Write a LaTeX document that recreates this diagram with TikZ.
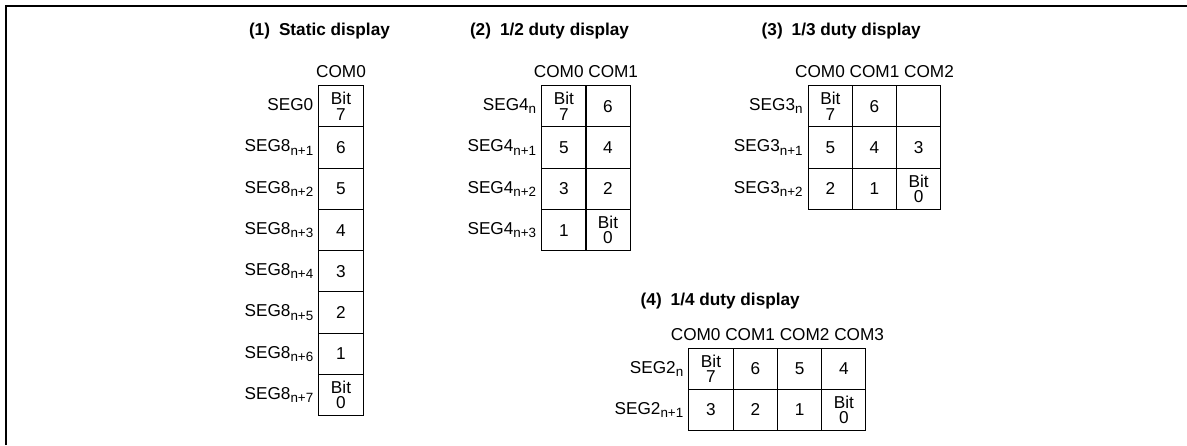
\documentclass[tikz,border=0pt]{standalone}
\usepackage{fontspec}
\setmainfont{Liberation Sans}
\usetikzlibrary{calc}
\newcommand\lsub[1]{\raisebox{-1.7pt}{\fontsize{6.7pt}{7pt}\selectfont #1}}
\begin{document}
\begin{tikzpicture}[x=0.5pt,y=-0.5pt,
  every node/.style={font=\fontsize{8.6pt}{7.6pt}\selectfont, inner sep=0pt, outer sep=0pt},
  cell/.style={draw, line width=0.5pt, minimum width=22.15pt, minimum height=20.625pt, align=center},
  seg/.style={anchor=base east, xshift=-2.8pt, yshift=-2.1pt},
  com/.style={anchor=base, yshift=4pt},
  ttl/.style={anchor=west, font=\fontsize{8.6pt}{10pt}\selectfont\bfseries}]
\useasboundingbox (0,0) rectangle (1187,445);
\draw[line width=1pt] (6,445) -- (6,6) -- (1187,6);

% ---------- (1) Static display
\node[ttl] (t1) at (249,31) {(1)\hspace{4.5pt}Static display};
\node[cell] (a1) at (341,106.3) {Bit\\7};
\node[cell] (a2) at (341,147.6) {6};
\node[cell] (a3) at (341,188.8) {5};
\node[cell] (a4) at (341,230.1) {4};
\node[cell] (a5) at (341,271.3) {3};
\node[cell] (a6) at (341,312.6) {2};
\node[cell] (a7) at (341,353.8) {1};
\node[cell] (a8) at (341,395.1) {Bit\\0};
\node[com] (ac) at (a1.north) {COM0};
\node[seg] (as1) at (a1.west) {SEG0};
\node[seg] (as2) at (a2.west) {SEG8\lsub{n+1}};
\node[seg] (as3) at (a3.west) {SEG8\lsub{n+2}};
\node[seg] (as4) at (a4.west) {SEG8\lsub{n+3}};
\node[seg] (as5) at (a5.west) {SEG8\lsub{n+4}};
\node[seg] (as6) at (a6.west) {SEG8\lsub{n+5}};
\node[seg] (as7) at (a7.west) {SEG8\lsub{n+6}};
\node[seg] (as8) at (a8.west) {SEG8\lsub{n+7}};

% ---------- (2) 1/2 duty display
\node[ttl] (t2) at (470,31) {(2)\hspace{4.5pt}1/2 duty display};
\node[cell] (b11) at (563.9,106.3) {Bit\\7};
\node[cell] (b12) at (608,106.3) {6};
\node[cell] (b21) at (563.9,147.6) {5};
\node[cell] (b22) at (608,147.6) {4};
\node[cell] (b31) at (563.9,188.8) {3};
\node[cell] (b32) at (608,188.8) {2};
\node[cell] (b41) at (563.9,230.1) {1};
\node[cell] (b42) at (608,230.1) {Bit\\0};
\node[com] (bc) at ($(b11.north west)!0.5!(b12.north east)$) {COM0 COM1};
\node[seg] (bs1) at (b11.west) {SEG4\lsub{n}};
\node[seg] (bs2) at (b21.west) {SEG4\lsub{n+1}};
\node[seg] (bs3) at (b31.west) {SEG4\lsub{n+2}};
\node[seg] (bs4) at (b41.west) {SEG4\lsub{n+3}};

% ---------- (3) 1/3 duty display
\node[ttl] (t3) at (761.7,31) {(3)\hspace{4.5pt}1/3 duty display};
\node[cell] (c11) at (830.3,106.3) {Bit\\7};
\node[cell] (c12) at (874.5,106.3) {6};
\node[cell] (c13) at (918.7,106.3) {};
\node[cell] (c21) at (830.3,147.6) {5};
\node[cell] (c22) at (874.5,147.6) {4};
\node[cell] (c23) at (918.7,147.6) {3};
\node[cell] (c31) at (830.3,188.8) {2};
\node[cell] (c32) at (874.5,188.8) {1};
\node[cell] (c33) at (918.7,188.8) {Bit\\0};
\node[com] (cc) at ($(c11.north west)!0.5!(c13.north east)$) {COM0 COM1 COM2};
\node[seg] (cs1) at (c11.west) {SEG3\lsub{n}};
\node[seg] (cs2) at (c21.west) {SEG3\lsub{n+1}};
\node[seg] (cs3) at (c31.west) {SEG3\lsub{n+2}};

% ---------- (4) 1/4 duty display
\node[ttl] (t4) at (640.7,301) {(4)\hspace{4.5pt}1/4 duty display};
\node[cell] (d11) at (711,368.8) {Bit\\7};
\node[cell] (d12) at (755.4,368.8) {6};
\node[cell] (d13) at (799.7,368.8) {5};
\node[cell] (d14) at (843.8,368.8) {4};
\node[cell] (d21) at (711,409.8) {3};
\node[cell] (d22) at (755.4,409.8) {2};
\node[cell] (d23) at (799.7,409.8) {1};
\node[cell] (d24) at (843.8,409.8) {Bit\\0};
\node[com] (dc) at ($(d11.north west)!0.5!(d14.north east)$) {COM0 COM1 COM2 COM3};
\node[seg] (ds1) at (d11.west) {SEG2\lsub{n}};
\node[seg] (ds2) at (d21.west) {SEG2\lsub{n+1}};
\end{tikzpicture}
\end{document}
